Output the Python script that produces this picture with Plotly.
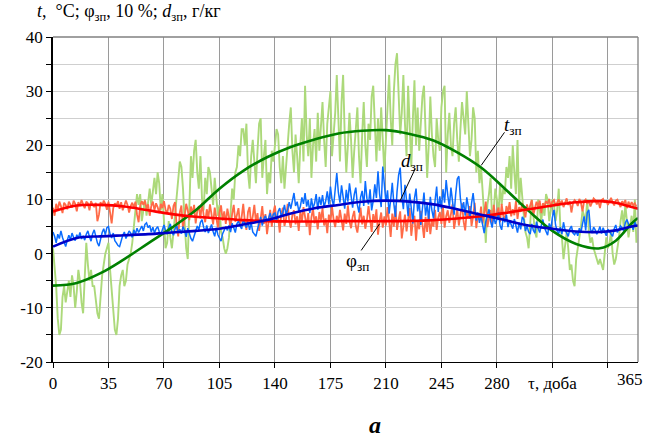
import plotly.graph_objects as go

# ---------------- data ----------------
# daily outdoor air temperature, °C (day 0 .. 368)
temp = [
    1, -2, -6, -12, -15, -14, -8, -6, -9, -7,
    -5, -8, -4, -6, -10, -7, -3, -5, -9, -11,
    -4, 2, -2, -5, -3, -6, -6, -9, -11, -12,
    -8, -4, -2, 0, 1, 2, -3, -7, -11, -14,
    -15, -12, -6, -4, -3, -6, -5, -2, -1, 0,
    2, 5, 8, 11, 9, 11, 6, 8, 10, 7,
    10, 12, 9, 12, 14, 11, 15, 13, 8, 11,
    5, 1, 2, 6, 3, 1, 4, 7, 10, 14,
    17, 16, 12, 6, 1, -1, 8, 18, 14, 19,
    21, 15, 12, 18, 10, 8, 14, 11, 16, 15,
    12, 9, 14, 10, 7, 9, 4, 3, 1, 0,
    1, 3, 8, 12, 10, 15, 16, 20, 18, 23,
    23, 20, 24, 15, 12, 18, 21, 16, 13, 19,
    24, 25, 14, 18, 21, 11, 15, 13, 19, 17,
    20, 23, 22, 16, 13, 18, 12, 16, 21, 24,
    27, 19, 15, 22, 18, 13, 20, 25, 17, 31,
    22, 18, 25, 14, 20, 23, 17, 26, 19, 24,
    28, 21, 16, 24, 27, 30, 18, 22, 26, 33,
    25, 17, 28, 33, 22, 15, 20, 26, 21, 14,
    19, 24, 27, 18, 13, 22, 28, 20, 16, 24,
    21, 29, 31, 24, 17, 25, 19, 27, 22, 15,
    21, 28, 33, 25, 20, 30, 35, 37, 28, 22,
    26, 33, 24, 18, 31, 22, 16, 25, 32, 20,
    27, 19, 24, 29, 31, 23, 14, 20, 29, 22,
    18, 16, 25, 21, 19, 27, 30, 31, 15, 22,
    26, 20, 18, 24, 27, 21, 17, 23, 28, 25,
    22, 30, 24, 18, 21, 27, 25, 15, 19, 13,
    16, 12, 7, 2, 9, 11, 14, 6, 8, 12,
    10, 7, 13, 9, 12, 11, 16, 14, 18, 12,
    20, 15, 11, 21, 9, 14, 10, 7, 4, 3,
    1, 5, 10, 7, 4, 3, 10, 8, 6, 9,
    7, 11, 10, 6, 8, 10, 9, 6, 8, 12,
    5, 3, -1, 2, 4, 1, -3, -2, -5, -6,
    -1, 1, 3, 5, 8, 7, 6, 10, 4, 2,
    3, 1, 0, -1, -2, -1, -2, -3, 0, 3,
    1, 2, 4, 0, -2, -1, 1, 3, 6, 8,
    5, 9, 6, 3, 5, 7, 4, 10, 2,
]

# daily relative humidity, units of 10 %
phi = [
    8.5, 7.0, 9.2, 8.0, 9.6, 8.8, 7.5, 9.4, 9.0, 8.2,
    9.6, 9.0, 8.5, 9.8, 9.2, 7.8, 9.5, 8.8, 9.9, 9.1,
    8.4, 9.6, 9.3, 8.0, 9.7, 9.0, 8.6, 9.4, 6.0, 7.2,
    9.5, 8.8, 9.8, 9.2, 8.1, 9.6, 7.0, 5.6, 8.4, 9.3,
    8.9, 9.7, 8.3, 9.5, 8.0, 9.1, 9.8, 9.0, 7.6, 8.8,
    9.4, 8.5, 9.6, 7.2, 5.8, 8.9, 9.7, 9.0, 9.8, 8.3,
    9.1, 7.0, 8.8, 9.6, 8.0, 9.3, 8.6, 7.5, 9.2, 8.4,
    9.7, 8.1, 7.4, 9.0, 8.3, 6.4, 8.8, 9.5, 5.0, 3.2,
    7.6, 8.9, 4.5, 6.8, 9.2, 8.0, 6.2, 8.7, 7.3, 9.0,
    5.6, 7.9, 8.8, 6.5, 9.4, 7.2, 5.8, 8.2, 6.6, 9.1,
    7.0, 5.4, 8.5, 6.9, 4.8, 7.6, 8.9, 6.1, 7.8, 5.5,
    8.3, 6.7, 4.6, 7.4, 9.0, 5.9, 7.1, 8.4, 5.2, 6.8,
    9.2, 6.0, 4.4, 7.7, 8.6, 5.3, 6.9, 9.0, 5.8, 7.5,
    4.2, 6.6, 8.8, 5.5, 7.3, 3.6, 6.2, 8.1, 5.0, 7.6,
    8.9, 5.7, 6.8, 3.9, 7.4, 8.5, 5.1, 6.4, 9.2, 6.0,
    4.8, 7.2, 8.0, 5.4, 6.9, 4.2, 7.8, 5.9, 8.6, 6.3,
    5.0, 7.5, 3.4, 6.7, 8.3, 5.6, 6.9, 4.5, 7.7, 6.1,
    8.4, 5.2, 6.5, 3.8, 7.2, 5.8, 8.7, 6.3, 4.9, 7.0,
    5.7, 8.1, 6.4, 4.3, 7.4, 5.5, 8.9, 6.0, 4.7, 6.8,
    7.9, 5.1, 3.9, 6.6, 8.5, 5.4, 7.0, 4.6, 6.2, 8.8,
    6.5, 4.0, 7.3, 5.7, 8.2, 3.5, 6.0, 7.6, 4.8, 6.9,
    5.2, 8.6, 6.1, 3.1, 7.4, 5.0, 8.9, 4.4, 6.3, 7.8,
    2.8, 5.6, 7.2, 4.1, 6.6, 8.4, 3.3, 5.9, 7.0, 2.4,
    6.2, 4.5, 7.9, 5.3, 2.9, 6.8, 4.0, 7.5, 3.6, 6.0,
    5.0, 8.1, 4.4, 6.7, 7.7, 5.5, 8.6, 4.8, 6.9, 8.0,
    5.7, 7.3, 9.1, 4.6, 6.4, 8.3, 5.2, 7.0, 9.3, 5.9,
    4.3, 7.8, 6.5, 8.8, 5.1, 6.9, 9.4, 4.7, 7.2, 6.2,
    8.7, 5.6, 7.5, 9.6, 4.9, 6.8, 8.1, 5.4, 9.0, 6.6,
    7.4, 8.5, 5.8, 9.2, 7.0, 6.1, 8.8, 7.6, 9.5, 6.9,
    8.2, 7.1, 9.7, 6.4, 8.6, 7.7, 9.3, 8.0, 6.7, 9.1,
    7.8, 8.9, 9.9, 7.2, 8.4, 9.6, 8.7, 9.8, 7.5, 9.3,
    8.8, 9.7, 9.2, 10.1, 8.5, 9.6, 9.9, 8.9, 9.4, 10.0,
    9.1, 9.8, 8.6, 9.5, 10.2, 9.0, 9.7, 7.6, 9.3, 9.9,
    9.6, 8.8, 10.1, 9.4, 7.8, 9.7, 10.0, 9.2, 9.8, 8.7,
    9.5, 10.2, 9.9, 9.1, 9.7, 8.4, 9.9, 10.1, 9.4, 9.8,
    9.0, 9.7, 10.3, 9.5, 8.9, 9.8, 10.0, 9.3, 8.6, 9.7,
    9.2, 9.9, 8.4, 9.6, 8.8, 9.5, 8.9, 9.3, 8.7,
]

# daily moisture content, g/kg
dmc = [
    4.0, 3.2, 2.0, 3.6, 2.8, 4.2, 3.0, 2.2, 1.3, 2.5,
    3.4, 2.6, 3.8, 3.0, 2.4, 3.5, 2.9, 3.9, 2.7, 3.3,
    2.5, 3.6, 4.2, 3.1, 2.3, 3.7, 4.4, 3.2, 2.0, 1.4,
    2.8, 3.9, 4.6, 3.5, 4.8, 5.0, 3.6, 2.9, 3.8, 2.4,
    2.0, 1.5, 1.3, 2.6, 3.4, 4.0, 2.8, 3.5, 4.2, 3.8,
    3.0, 4.4, 3.6, 4.7, 3.9, 4.5, 5.1, 4.2, 5.4, 5.7,
    4.8, 5.2, 4.0, 4.9, 3.8, 4.6, 5.0, 4.1, 3.5, 4.4,
    5.3, 4.2, 3.6, 4.8, 5.5, 4.0, 3.4, 4.6, 5.2, 3.9,
    4.5, 3.7, 5.0, 4.3, 3.1, 4.7, 3.6, 2.8, 2.3, 3.5,
    4.2, 5.1, 4.4, 5.8, 6.3, 4.9, 4.0, 5.2, 3.8, 4.6,
    5.4, 4.1, 3.2, 4.8, 3.5, 2.9, 2.3, 3.7, 4.5, 5.0,
    4.3, 5.2, 4.0, 5.6, 4.8, 3.9, 5.5, 6.0, 5.1, 4.6,
    6.3, 5.5, 4.8, 5.9, 4.4, 5.7, 4.0, 3.6, 3.2, 4.5,
    5.8, 6.8, 5.2, 6.4, 7.0, 5.9, 6.6, 7.5, 6.2, 7.3,
    7.5, 6.0, 7.8, 8.4, 6.9, 7.6, 9.0, 7.2, 8.1, 9.5,
    8.3, 10.0, 11.2, 8.8, 9.6, 7.9, 8.7, 10.4, 9.2, 11.2,
    8.7, 9.9, 7.5, 10.2, 8.4, 9.3, 11.0, 8.1, 10.5, 9.0,
    10.8, 8.6, 9.7, 11.5, 9.1, 12.4, 10.0, 8.8, 12.0, 14.9,
    11.3, 9.4, 12.6, 10.1, 8.3, 11.8, 9.6, 13.0, 10.7, 8.5,
    10.9, 12.2, 9.0, 7.6, 10.4, 11.6, 8.8, 13.4, 10.2, 9.1,
    11.9, 8.0, 9.8, 12.8, 10.3, 15.2, 11.0, 8.6, 16.1, 12.3,
    9.5, 11.7, 7.4, 10.0, 13.1, 9.2, 6.8, 11.4, 14.5, 15.9,
    10.6, 8.2, 12.7, 9.9, 6.9, 11.1, 8.5, 5.6, 10.2, 12.0,
    7.8, 9.6, 5.3, 8.4, 11.3, 7.0, 9.1, 6.2, 10.5, 8.0,
    6.5, 9.8, 12.4, 7.7, 10.6, 8.3, 11.9, 9.4, 13.6, 10.8,
    8.6, 12.2, 9.7, 7.2, 11.0, 13.8, 14.3, 10.1, 8.0, 9.5,
    7.0, 10.4, 8.7, 6.4, 9.3, 11.2, 8.4, 6.1, 7.6, 5.7,
    6.9, 5.1, 3.8, 5.9, 7.4, 8.2, 6.0, 4.8, 7.0, 5.5,
    6.3, 7.6, 5.2, 4.4, 6.7, 5.8, 7.2, 4.9, 6.1, 5.3,
    4.6, 6.4, 5.0, 3.9, 5.7, 4.5, 6.8, 6.3, 4.2, 5.1,
    4.0, 3.6, 5.5, 4.3, 3.8, 5.9, 4.7, 3.9, 5.2, 6.3,
    4.8, 4.0, 3.4, 5.6, 4.5, 6.7, 8.1, 5.3, 4.2, 3.7,
    4.9, 3.6, 5.8, 4.4, 3.9, 3.2, 4.6, 5.1, 3.8, 3.5,
    4.1, 3.3, 4.7, 3.9, 5.5, 6.9, 4.3, 7.6, 8.1, 4.5,
    3.8, 4.9, 4.4, 3.6, 4.2, 5.0, 3.7, 4.8, 4.0, 3.3,
    4.5, 4.1, 3.5, 3.2, 4.6, 5.3, 3.9, 4.4, 5.1, 4.7,
    4.2, 5.7, 6.3, 5.5, 4.8, 5.2, 4.4, 5.9, 5.0,
]

# approximating (trend) curves, read at knots
fit_days = [0, 15, 30, 45, 60, 75, 90, 105, 120, 135, 150, 165, 180, 195,
            210, 225, 240, 255, 270, 285, 300, 315, 330, 345, 355, 365, 369]
temp_fit = [-5.9, -5.4, -3.6, -1.0, 1.9, 4.8, 8.0, 12.0, 15.3, 17.8, 19.7, 21.1,
            22.2, 22.7, 22.8, 22.1, 20.9, 18.7, 15.9, 12.0, 7.9, 4.2, 1.8, 1.0,
            2.4, 5.6, 6.6]
phi_fit = [7.8, 8.9, 9.0, 8.7, 8.0, 7.3, 6.8, 6.5, 6.2, 6.0, 5.95, 5.95, 6.0,
           6.0, 6.0, 6.05, 6.2, 6.5, 6.9, 7.5, 8.2, 8.9, 9.5, 9.7, 9.4, 8.6, 8.3]
d_fit = [1.3, 2.9, 3.2, 3.4, 3.6, 3.9, 4.2, 4.6, 5.4, 6.2, 7.4, 8.4, 9.0, 9.6,
         9.8, 9.6, 9.1, 8.2, 7.2, 6.2, 5.2, 4.6, 4.1, 4.0, 4.3, 5.0, 5.2]

x_tickvals = [0, 35, 70, 105, 140, 175, 210, 245, 280, 315, 350]
x_ticktext = ["0", "35", "70", "105", "140", "175", "210", "245", "280", "τ, доба", ""]
y_tickvals = [-20, -10, 0, 10, 20, 30, 40]
y_ticktext = ["-20", "-10", "0", "10", "20", "30", "40"]

FONT = "Liberation Serif"

fig = go.Figure()
fig.add_trace(go.Scatter(x=list(range(len(temp))), y=temp, mode="lines",
                         line=dict(color="#acd97a", width=1.9), hoverinfo="skip"))
fig.add_trace(go.Scatter(x=list(range(len(phi))), y=phi, mode="lines",
                         line=dict(color="#ff6a47", width=1.8), hoverinfo="skip"))
fig.add_trace(go.Scatter(x=list(range(len(dmc))), y=dmc, mode="lines",
                         line=dict(color="#0a6cff", width=1.5), hoverinfo="skip"))
fig.add_trace(go.Scatter(x=fit_days, y=temp_fit, mode="lines",
                         line=dict(color="#008000", width=2.6, shape="spline")))
fig.add_trace(go.Scatter(x=fit_days, y=phi_fit, mode="lines",
                         line=dict(color="#ff0000", width=2.6, shape="spline")))
fig.add_trace(go.Scatter(x=fit_days, y=d_fit, mode="lines",
                         line=dict(color="#0000c8", width=2.6, shape="spline")))

fig.update_layout(
    width=648, height=439,
    margin=dict(l=53, r=10, t=37, b=77),
    paper_bgcolor="white", plot_bgcolor="white",
    showlegend=False,
    font=dict(family=FONT, size=17, color="black"),
)
fig.update_xaxes(
    range=[0, 369], tickmode="array", tickvals=x_tickvals, ticktext=x_ticktext,
    showgrid=True, gridcolor="#9a9a9a", gridwidth=1.3,
    showline=True, linecolor="black", linewidth=1.3,
    ticks="outside", ticklen=5, tickcolor="black", zeroline=False,
    tickfont=dict(family=FONT, size=17, color="black"),
)
fig.update_yaxes(
    range=[-20, 40], tickmode="array", tickvals=y_tickvals, ticktext=y_ticktext,
    showgrid=True, gridcolor="#cfcfcf", gridwidth=1.3,
    minor=dict(dtick=5, tick0=0, showgrid=True, gridcolor="#cfcfcf", gridwidth=1.3,
               ticks="outside", ticklen=5, tickcolor="black"),
    showline=True, linecolor="black", linewidth=1.5,
    ticks="outside", ticklen=5, tickcolor="black", zeroline=False,
    tickfont=dict(family=FONT, size=17, color="black"),
)

# frame top / right
fig.add_shape(type="line", xref="paper", yref="paper", x0=0, x1=1, y0=1, y1=1,
              line=dict(color="#808080", width=1.3))
fig.add_shape(type="line", xref="paper", yref="paper", x0=1, x1=1, y0=0, y1=1,
              line=dict(color="#808080", width=1.3))

# leader lines
for x0, y0, x1, y1 in [(270.1, 16.3, 284.8, 22.4), (228.5, 15.7, 219.0, 9.8),
                       (194.4, 0.6, 206.0, 5.5)]:
    fig.add_shape(type="line", xref="x", yref="y", x0=x0, y0=y0, x1=x1, y1=y1,
                  line=dict(color="black", width=1))

ann_font = dict(family=FONT, size=19, color="black")
fig.add_annotation(x=283.5, y=23.6, xref="x", yref="y", text="<i>t</i><sub>зп</sub>",
                   showarrow=False, xanchor="left", yanchor="middle", font=ann_font)
fig.add_annotation(x=218.5, y=17.0, xref="x", yref="y", text="<i>d</i><sub>зп</sub>",
                   showarrow=False, xanchor="left", yanchor="middle", font=ann_font)
fig.add_annotation(x=183.5, y=-1.6, xref="x", yref="y", text="φ<sub>зп</sub>",
                   showarrow=False, xanchor="left", yanchor="middle", font=ann_font)

# axis title (top left)
fig.add_annotation(x=-0.031, y=1.075, xref="paper", yref="paper",
                   text="<i>t</i>,  °C; φ<sub>зп</sub>, 10 %; <i>d</i><sub>зп</sub>, г/кг",
                   showarrow=False, xanchor="left", yanchor="middle",
                   font=dict(family=FONT, size=18, color="black"))
# last x label
fig.add_annotation(x=364, y=-20, xref="x", yref="y", text="365", showarrow=False,
                   xanchor="center", yanchor="top", yshift=-6,
                   font=dict(family=FONT, size=17, color="black"))
# panel letter
fig.add_annotation(x=0.55, y=-0.195, xref="paper", yref="paper", text="<b><i>a</i></b>",
                   showarrow=False, xanchor="center", yanchor="middle",
                   font=dict(family=FONT, size=24, color="black"))

fig.write_html("out.html")
